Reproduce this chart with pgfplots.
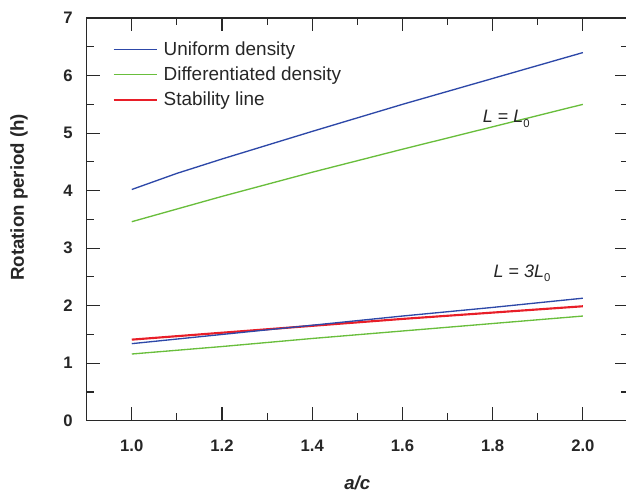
\documentclass[border=0pt]{standalone}
\usepackage{fontspec}
\setmainfont{Liberation Sans}
\usepackage{pgfplots}
\pgfplotsset{compat=1.18}
\definecolor{unifblue}{RGB}{45,72,168}
\definecolor{diffgreen}{RGB}{105,190,60}
\definecolor{stabred}{RGB}{232,30,40}
\definecolor{axisgray}{RGB}{40,40,40}

\begin{document}
\begin{tikzpicture}
\begin{axis}[
  name=main,
  scale only axis,
  width=406pt, height=302pt,
  xmin=0.9, xmax=2.1,
  ymin=0, ymax=7,
  xtick={1.0,1.2,...,2.0},
  ytick={0,1,...,7},
  minor x tick num=1,
  minor y tick num=1,
  tick align=inside,
  major tick length=10pt,
  minor tick length=5.5pt,
  axis line style={axisgray, line width=0.9pt},
  every tick/.style={axisgray, line width=0.8pt},
  x tick label style={/pgf/number format/fixed,
    /pgf/number format/fixed zerofill, /pgf/number format/precision=1},
  /pgf/number format/assume math mode=true,
  tick label style={font=\bfseries\fontsize{12.5}{14}\selectfont, text=black!85},
  x tick label style={yshift=-11pt},
  y tick label style={xshift=-7pt},
  xlabel={\textit{a/c}},
  ylabel={Rotation period (h)},
  label style={font=\bfseries\fontsize{14}{16}\selectfont, text=black!85},
  xlabel style={at={(axis description cs:0.5,0)}, anchor=center, yshift=-47pt},
  ylabel style={at={(axis description cs:-0.125,0.555)}, anchor=center, rotate=0},
  legend style={draw=none, fill=none, at={(axis description cs:0.04,0.955)},
    anchor=north west, font=\fontsize{14.2}{16}\selectfont,
    row sep=3pt, column sep=2pt, text=black!85},
  legend cell align=left,
  legend image code/.code={\draw[#1] (0cm,0cm) -- (1.15cm,0cm);},
]
\addplot[unifblue, line width=1pt] coordinates {
  (1.0,4.02) (1.1,4.30) (1.2,4.55) (1.4,5.03) (1.6,5.50) (1.8,5.95) (2.0,6.40)};
\addlegendentry{Uniform density}
\addplot[diffgreen, line width=1pt] coordinates {
  (1.0,3.46) (1.2,3.90) (1.4,4.32) (1.6,4.72) (1.8,5.11) (2.0,5.50)};
\addlegendentry{Differentiated density}
\addplot[stabred, line width=1.6pt] coordinates {
  (1.0,1.41) (1.2,1.53) (1.4,1.65) (1.6,1.77) (1.8,1.88) (2.0,1.99)};
\addlegendentry{Stability line}
\addplot[unifblue, line width=1pt, forget plot] coordinates {
  (1.0,1.34) (1.2,1.50) (1.4,1.66) (1.6,1.82) (1.8,1.97) (2.0,2.13)};
\addplot[diffgreen, line width=1pt, forget plot] coordinates {
  (1.0,1.16) (1.2,1.29) (1.4,1.43) (1.6,1.56) (1.8,1.69) (2.0,1.82)};
\node[font=\fontsize{13.5}{15}\selectfont, text=black!85] at (axis cs:1.83,5.25)
  {\textit{L} = \textit{L}\raisebox{-0.45ex}{\fontsize{8.5}{10}\selectfont 0}};
\node[font=\fontsize{13.5}{15}\selectfont, text=black!85] at (axis cs:1.865,2.56)
  {\textit{L} = \textit{3L}\raisebox{-0.45ex}{\fontsize{8.5}{10}\selectfont 0}};
\end{axis}
\pgfresetboundingbox
\useasboundingbox (main.south west) ++(-65pt,-57.2pt) rectangle ++(469.5pt,372.75pt);
\end{tikzpicture}
\end{document}
